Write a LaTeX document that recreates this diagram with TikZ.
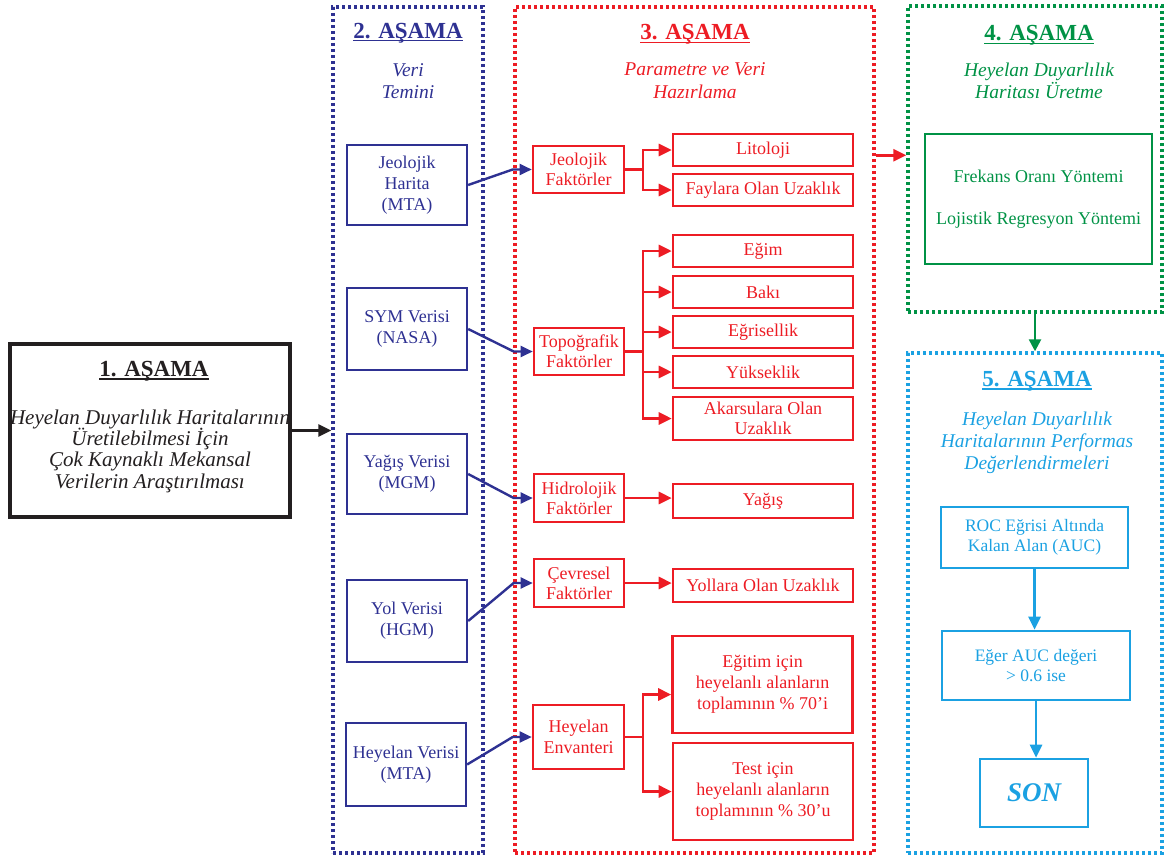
\documentclass[tikz,border=0pt]{standalone}
\usepackage{fontspec}
\setmainfont{Liberation Serif}
\usetikzlibrary{arrows.meta,calc}
\definecolor{cnavy}{RGB}{46,49,146}
\definecolor{cred}{RGB}{237,28,36}
\definecolor{cgreen}{RGB}{0,146,69}
\definecolor{ccyan}{RGB}{27,161,226}
\definecolor{cblack}{RGB}{35,31,32}
\newcommand\myuline[1]{\setbox0\hbox{#1}\rlap{\rule[-3.5pt]{\wd0}{1.3pt}}\box0}
\begin{document}
\begin{tikzpicture}[x=1pt,y=-1pt,
  stagebox/.style={draw=#1, line width=3.4pt, dash pattern=on 3.2pt off 2.8pt, inner sep=0pt},
  box/.style={draw=#1, text=#1, line width=2.6pt, inner sep=0pt, align=center, font=\fontsize{18}{21}\selectfont},
  ttl/.style={anchor=base, text=#1, inner sep=0pt, font=\fontsize{23}{26}\selectfont\bfseries},
  sub/.style={anchor=base, text=#1, inner sep=0pt, font=\fontsize{19.5}{22}\selectfont\itshape},
  arr/.style={draw=#1, line width=2.7pt, -{Triangle[length=13pt,width=12pt]}},
  ln/.style={draw=#1, line width=2.7pt},
  boxone/.style={anchor=base, text=cblack, inner sep=0pt, font=\fontsize{21}{21}\selectfont\itshape},
]
\useasboundingbox (0,0) rectangle (1164,859);

% stage frames
\node[stagebox=cnavy, minimum width=150pt, minimum height=846pt] (s2) at (408,430) {};
\node[stagebox=cred, minimum width=359pt, minimum height=846pt] (s3) at (694.5,430) {};
\node[stagebox=cgreen, minimum width=254pt, minimum height=306pt] (s4) at (1035,159) {};
\node[stagebox=ccyan, minimum width=254pt, minimum height=500pt] (s5) at (1035,603) {};

% stage 1
\node[draw=cblack, line width=3.2pt, minimum width=280pt, minimum height=173pt, inner sep=0pt] (b1) at (150,430.5) {};
\node[ttl=cblack] (t1) at (154,376) {\myuline{1. AŞAMA}};
\node[boxone] (t1a) at (150,424) {Heyelan Duyarlılık Haritalarının};
\node[boxone] (t1b) at (150,445) {Üretilebilmesi İçin};
\node[boxone] (t1c) at (150,466) {Çok Kaynaklı Mekansal};
\node[boxone] (t1d) at (150,488) {Verilerin Araştırılması};

% titles
\node[ttl=cnavy] (t2) at (408,38) {\myuline{2. AŞAMA}};
\node[sub=cnavy] (t2a) at (408,77) {Veri};
\node[sub=cnavy] (t2b) at (408,99) {Temini};
\node[ttl=cred] (t3) at (695,40) {\myuline{3. AŞAMA}};
\node[sub=cred] (t3a) at (695,75) {Parametre ve Veri};
\node[sub=cred] (t3b) at (695,98) {Hazırlama};
\node[ttl=cgreen] (t4) at (1039,41) {\myuline{4. AŞAMA}};
\node[sub=cgreen] (t4a) at (1039,77) {Heyelan Duyarlılık};
\node[sub=cgreen] (t4b) at (1039,99) {Haritası Üretme};
\node[ttl=ccyan] (t5) at (1037,386) {\myuline{5. AŞAMA}};
\node[sub=ccyan] (t5a) at (1037,425) {Heyelan Duyarlılık};
\node[sub=ccyan] (t5b) at (1037,447) {Haritalarının Performas};
\node[sub=ccyan] (t5c) at (1037,469) {Değerlendirmeleri};

% data boxes
\node[box=cnavy, line width=2.3pt, minimum width=120pt, minimum height=80pt] (d1) at (407,185) {Jeolojik\\Harita\\(MTA)};
\node[box=cnavy, line width=2.3pt, minimum width=120pt, minimum height=82pt] (d2) at (407,329) {SYM Verisi\\(NASA)};
\node[box=cnavy, line width=2.3pt, minimum width=120pt, minimum height=80pt] (d3) at (407,474) {Yağış Verisi\\(MGM)};
\node[box=cnavy, line width=2.3pt, minimum width=120pt, minimum height=82pt] (d4) at (407,621) {Yol Verisi\\(HGM)};
\node[box=cnavy, line width=2.3pt, minimum width=120pt, minimum height=83pt] (d5) at (406,764.5) {Heyelan Verisi\\(MTA)};

% factor boxes
\node[box=cred, minimum width=91pt, minimum height=47pt, font=\fontsize{18}{20}\selectfont] (f1) at (578.5,169.5) {Jeolojik\\Faktörler};
\node[box=cred, minimum width=90pt, minimum height=47pt, font=\fontsize{18}{20}\selectfont] (f2) at (579,351.5) {Topoğrafik\\Faktörler};
\node[box=cred, minimum width=90pt, minimum height=48pt, font=\fontsize{18}{20}\selectfont] (f3) at (579,498) {Hidrolojik\\Faktörler};
\node[box=cred, minimum width=90pt, minimum height=48pt, font=\fontsize{18}{20}\selectfont] (f4) at (579,583) {Çevresel\\Faktörler};
\node[box=cred, minimum width=91pt, minimum height=64pt, font=\fontsize{18}{21}\selectfont] (f5) at (578.5,737) {Heyelan\\Envanteri};

% result boxes
\node[box=cred, minimum width=180pt, minimum height=32pt] (r1) at (763,150) {Litoloji};
\node[box=cred, minimum width=180pt, minimum height=32pt] (r2) at (763,190) {Faylara Olan Uzaklık};
\node[box=cred, minimum width=180pt, minimum height=32pt] (r3) at (763,251) {Eğim};
\node[box=cred, minimum width=180pt, minimum height=32pt] (r4) at (763,292) {Bakı};
\node[box=cred, minimum width=180pt, minimum height=32pt] (r5) at (763,332) {Eğrisellik};
\node[box=cred, minimum width=180pt, minimum height=32pt] (r6) at (763,372) {Yükseklik};
\node[box=cred, minimum width=180pt, minimum height=43pt, font=\fontsize{18}{20}\selectfont] (r7) at (763,418.5) {Akarsulara Olan\\Uzaklık};
\node[box=cred, minimum width=180pt, minimum height=34pt] (r8) at (763,501) {Yağış};
\node[box=cred, minimum width=180pt, minimum height=33pt] (r9) at (763,585.5) {Yollara Olan Uzaklık};
\node[box=cred, minimum width=180pt, minimum height=97pt] (r10) at (762.5,684.5) {Eğitim için\\heyelanlı alanların\\toplamının \% 70'i};
\node[box=cred, minimum width=180pt, minimum height=97pt] (r11) at (763,791.5) {Test için\\heyelanlı alanların\\toplamının \% 30'u};

% stage 4 box
\node[box=cgreen, minimum width=227pt, minimum height=130pt, font=\fontsize{18}{42}\selectfont] (g1) at (1038.5,199) {Frekans Oranı Yöntemi\\Lojistik Regresyon Yöntemi};

% stage 5 boxes
\node[box=ccyan, minimum width=187pt, minimum height=61pt, font=\fontsize{17.5}{20}\selectfont] (c1) at (1034.5,537.5) {ROC Eğrisi Altında\\Kalan Alan (AUC)};
\node[box=ccyan, minimum width=188pt, minimum height=69pt, font=\fontsize{17.5}{20}\selectfont] (c2) at (1036,665.5) {Eğer AUC değeri\\> 0.6 ise};
\node[box=ccyan, minimum width=108pt, minimum height=68pt, font=\fontsize{27}{30}\selectfont\bfseries\itshape] (c3) at (1034,793) {SON};

% connectors
\coordinate (bx) at (643,0);
\draw[arr=cblack, line width=2.4pt] (b1.east) -- (b1.east -| s2.west);

\draw[arr=cnavy, line width=2.4pt, -{Triangle[length=12pt,width=11pt]}] (d1.east) -- ([xshift=-19pt]f1.west) -- (f1.west);
\draw[arr=cnavy, line width=2.4pt, -{Triangle[length=12pt,width=11pt]}] (d2.east) -- ([xshift=-19pt]f2.west) -- (f2.west);
\draw[arr=cnavy, line width=2.4pt, -{Triangle[length=12pt,width=11pt]}] (d3.east) -- ([xshift=-19pt]f3.west) -- (f3.west);
\draw[arr=cnavy, line width=2.4pt, -{Triangle[length=12pt,width=11pt]}] (d4.east) -- ([xshift=-19pt]f4.west) -- (f4.west);
\draw[arr=cnavy, line width=2.4pt, -{Triangle[length=12pt,width=11pt]}] (d5.east) -- ([xshift=-19pt]f5.west) -- (f5.west);

\draw[ln=cred] (f1.east) -- (f1.east -| bx);
\draw[arr=cred] (f1.east -| bx) |- (r1.west);
\draw[arr=cred] (f1.east -| bx) |- (r2.west);

\draw[ln=cred] (f2.east) -- (f2.east -| bx);
\draw[arr=cred] (f2.east -| bx) |- (r3.west);
\draw[arr=cred] (f2.east -| bx) |- (r4.west);
\draw[arr=cred] (f2.east -| bx) |- (r5.west);
\draw[arr=cred] (f2.east -| bx) |- (r6.west);
\draw[arr=cred] (f2.east -| bx) |- (r7.west);

\draw[arr=cred] (f3.east) -- (f3.east -| r8.west);
\draw[arr=cred] (f4.east) -- (f4.east -| r9.west);

\draw[ln=cred] (f5.east) -- (f5.east -| bx);
\draw[arr=cred] (f5.east -| bx) |- ([yshift=-10pt]r10.west);
\draw[arr=cred] (f5.east -| bx) |- (r11.west);

\draw[arr=cred] ([yshift=-150pt]s3.north east) -- ([yshift=-151pt]s4.north west);
\draw[arr=cgreen, line width=2.4pt, -{Triangle[length=12pt,width=12pt]}] (s4.south) -- (s5.north);
\draw[arr=ccyan] (c1.south) -- (c1.south |- c2.north);
\draw[arr=ccyan] (c2.south) -- (c2.south |- c3.north);
\end{tikzpicture}
\end{document}
